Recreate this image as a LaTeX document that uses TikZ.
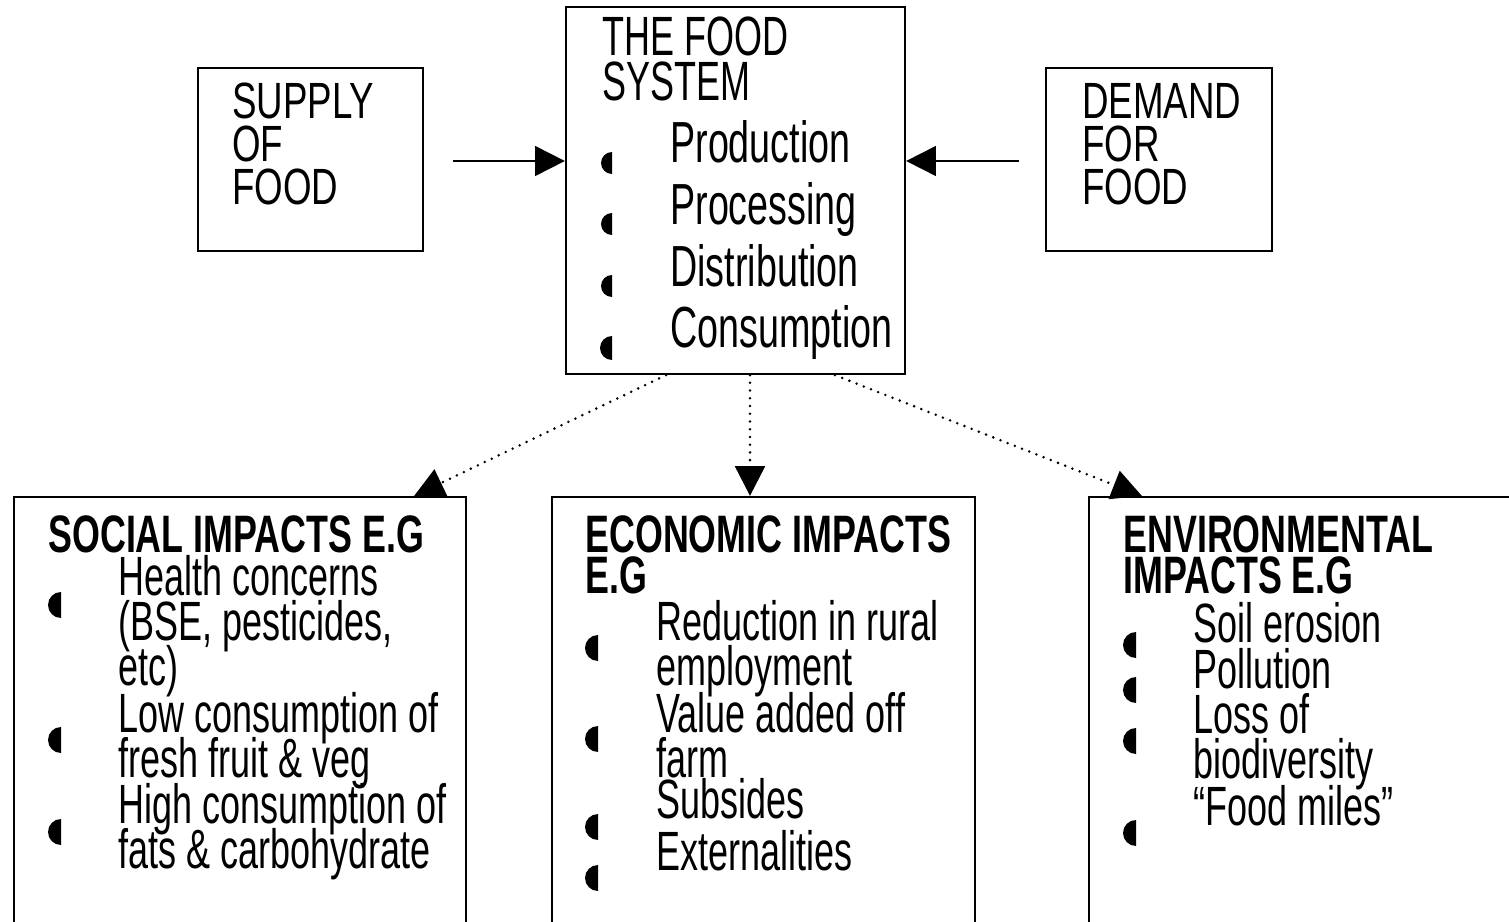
\documentclass[tikz,border=0pt]{standalone}
\usepackage{fontspec}
\setmainfont{Liberation Sans}[FakeStretch=0.65,BoldFeatures={FakeStretch=0.68}]
\newfontfamily\capsfont{Liberation Sans}[FakeStretch=0.72]
\usetikzlibrary{arrows.meta}
\lineskiplimit=-\maxdimen

\begin{document}
\begin{tikzpicture}[x=0.02cm,y=-0.02cm,
  box/.style={draw,line width=1.3pt,inner sep=0pt},
  boxtext/.style={anchor=north west,inner sep=0pt,align=left,font=\fontsize{31.5}{25.5}\selectfont},
  headtext/.style={anchor=north west,inner sep=0pt,align=left,font=\bfseries\fontsize{30}{23.8}\selectfont},
  solidarrow/.style={line width=1.1pt,-{Triangle[length=17pt,width=17pt]}},
  dottedarrow/.style={line width=1.6pt,line cap=round,dash pattern=on 0pt off 4.4pt,-{Triangle[length=17pt,width=17pt]}}]
\useasboundingbox (0,0) rectangle (1509,922);
\clip (0,0) rectangle (1509,922);

% boxes
\node[box,minimum width=4.5cm,minimum height=3.66cm] (supply) at (310.5,159.5) {};
\node[box,minimum width=6.78cm,minimum height=7.34cm] (system) at (735.5,190.5) {};
\node[box,minimum width=4.52cm,minimum height=3.66cm] (demand) at (1159,159.5) {};
\node[box,minimum width=9.04cm,minimum height=9.06cm] (social) at (240,723.5) {};
\node[box,minimum width=8.46cm,minimum height=9.06cm] (economic) at (763.5,723.5) {};
\node[box,minimum width=9.02cm,minimum height=9.06cm] (environ) at (1314.5,723.5) {};

% top row texts
\node[boxtext,font=\capsfont\fontsize{29}{24.4}\selectfont] (supplytext) at (232,83) {SUPPLY\\OF\\FOOD};
\node[boxtext,font=\capsfont\fontsize{29}{24.4}\selectfont] (demandtext) at (1082,83) {DEMAND\\FOR\\FOOD};
\node[boxtext] (systemtitle) at (602,17) {THE FOOD\\SYSTEM};
\node[boxtext,font=\fontsize{33}{35.2}\selectfont] (stages) at (670,120) {Production\\Processing\\Distribution\\Consumption};

% impacts
\node[headtext] (socialhead) at (48,515) {SOCIAL IMPACTS E.G};
\node[boxtext] (social1) at (118,555) {Health concerns\\(BSE, pesticides,\\etc)};
\node[boxtext] (social2) at (118,692) {Low consumption of\\fresh fruit \& veg};
\node[boxtext] (social3) at (118,783) {High consumption of\\fats \& carbohydrate};

\node[headtext] (econhead) at (585,515) {ECONOMIC IMPACTS\\E.G};
\node[boxtext] (econ1) at (656,600) {Reduction in rural\\employment};
\node[boxtext] (econ2) at (656,692) {Value added off\\farm};
\node[boxtext] (econ3) at (656,778) {Subsides};
\node[boxtext] (econ4) at (656,830) {Externalities};

\node[headtext] (envhead) at (1123,515) {ENVIRONMENTAL\\IMPACTS E.G};
\node[boxtext] (env1) at (1193,602) {Soil erosion};
\node[boxtext] (env2) at (1193,648) {Pollution};
\node[boxtext] (env3) at (1193,693) {Loss of\\biodiversity};
\node[boxtext] (env4) at (1193,785) {“Food miles”};

% bullets
\foreach \bx/\by/\br in {612/163/11,612/224/11,612/286/11,612/348/12,
    61/605/13,61/740/13,61/832/13,
    598/648/13,598/739/13,598/827/13,598/878/13,
    1136/645/13,1136/690/13,1136/741/13,1136/833/13}
  \fill (\bx,\by) ++(0,-\br) arc[start angle=90,end angle=270,radius={\br*0.02cm}] -- cycle;

% connectors
\coordinate (supplytail) at (453,161);
\coordinate (demandtail) at (1019,161);
\draw[solidarrow] (supplytail) -- (supplytail -| system.west);
\draw[solidarrow] (demandtail) -- (demandtail -| system.east);
\draw[dottedarrow] ([xshift=-1.39cm]system.south) -- ([xshift=-1.06cm]social.north east);
\draw[dottedarrow] ([xshift=0.29cm]system.south) -- ([xshift=-0.27cm]economic.north);
\draw[dottedarrow] ([xshift=1.99cm]system.south) -- ([xshift=1.08cm]environ.north west);

\end{tikzpicture}
\end{document}
